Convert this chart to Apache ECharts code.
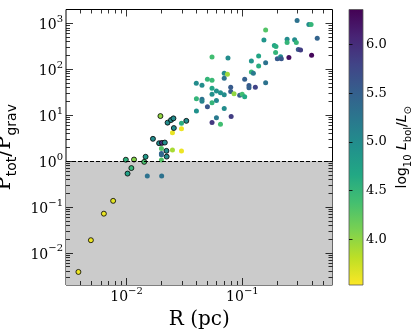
<!DOCTYPE html>
<html>
<head>
<meta charset="utf-8">
<script src="https://cdn.jsdelivr.net/npm/echarts@6/dist/echarts.min.js"></script>
<style>
  html, body { margin: 0; padding: 0; background: #fff; }
  #chart { width: 415px; height: 329px; }
</style>
</head>
<body>
<div id="chart"></div>
<script>
// clumps drawn with a black edge (small R)
const edgedR = [0.00384, 0.00492, 0.00637, 0.00766, 0.0102, 0.0110, 0.00986, 0.0116, 0.0142, 0.0146,
  0.0169, 0.0191, 0.0202, 0.0214, 0.0221, 0.0222, 0.0196, 0.0226, 0.0242, 0.0254, 0.0256, 0.0328]
const edgedP = [0.00385, 0.0189, 0.0715, 0.136, 0.534, 0.704, 1.07, 1.08, 0.961, 1.24,
  3.05, 2.45, 2.49, 2.53, 1.67, 1.25, 9.55, 6.87, 7.82, 8.51, 5.24, 7.51]
const edgedL = [3.60, 3.60, 3.62, 3.65, 4.75, 4.50, 4.55, 4.05, 4.35, 4.85,
  5.00, 5.00, 6.00, 5.00, 5.00, 5.00, 4.00, 5.00, 5.00, 5.00, 5.00, 5.00]

// clumps without edge
const plainR = [0.0151, 0.0201, 0.0200, 0.0200, 0.0200, 0.0200, 0.0249, 0.0249, 0.0298, 0.0298,
  0.0298, 0.0400, 0.0401, 0.0401, 0.0448, 0.0448, 0.0448, 0.0499, 0.0499, 0.0547,
  0.0547, 0.0547, 0.0547, 0.0547, 0.0547, 0.0597, 0.0597, 0.0597, 0.0647, 0.0647,
  0.0697, 0.0743, 0.0697, 0.0697, 0.0697, 0.0751, 0.0793, 0.0793, 0.0800, 0.0847,
  0.0948, 0.0996, 0.1047, 0.1047, 0.114, 0.114, 0.1196, 0.1196, 0.1244, 0.1294,
  0.1382, 0.1382, 0.1535, 0.1588, 0.1588, 0.1588, 0.1888, 0.195, 0.1936, 0.2003,
  0.2138, 0.2169, 0.2433, 0.2433, 0.2522, 0.2825, 0.2922, 0.2968, 0.304, 0.318,
  0.375, 0.392, 0.396, 0.443]
const plainP = [0.471, 0.471, 1.89, 1.47, 1.37, 1.05, 4.16, 1.74, 6.63, 5.03,
  1.65, 49.3, 22.9, 12.3, 45.0, 22.1, 20.2, 60.3, 15.3, 184.5,
  57.9, 38.7, 28.4, 18.7, 6.90, 33.5, 20.8, 8.82, 30.6, 6.30,
  81.4, 77.4, 63.4, 27.7, 13.9, 175, 40.3, 32.7, 9.32, 29.4,
  27.3, 28.7, 25.3, 60.3, 44.2, 39.3, 152, 86.9, 81.4, 40.7,
  194, 117, 433, 714, 139, 51.1, 327, 311, 231, 170,
  188, 168.5, 448, 380, 180, 437, 380, 1151, 269, 262,
  937, 937, 201, 471]
const plainL = [5.30, 5.30, 4.30, 5.50, 5.40, 4.30, 3.62, 3.90, 4.60, 3.60,
  3.60, 5.00, 4.50, 4.95, 5.00, 5.30, 5.10, 4.50, 5.60, 4.40,
  4.45, 4.70, 4.95, 4.50, 5.90, 4.95, 5.05, 5.20, 4.95, 4.40,
  5.00, 3.95, 5.30, 5.00, 5.00, 5.00, 5.55, 5.55, 5.85, 4.00,
  5.55, 4.40, 4.65, 5.50, 5.55, 5.50, 4.90, 4.50, 5.20, 5.80,
  4.70, 4.60, 4.90, 4.30, 5.30, 5.30, 4.70, 4.60, 4.50, 5.55,
  5.00, 5.60, 5.00, 4.50, 6.25, 5.00, 4.50, 5.30, 5.60, 5.85,
  5.00, 4.50, 6.30, 5.45]

const xRange = [0.003, 0.6]
const yRange = [0.002, 2000]
const xMajor = [0.01, 0.1]
const yMajor = [0.01, 0.1, 1, 10, 100, 1000]
const cbRange = [3.53, 6.36]
const cbTicks = [4.0, 4.5, 5.0, 5.5, 6.0]

const viridis = ['#440154', '#482475', '#414487', '#355f8d', '#2a788e', '#21918c',
  '#22a884', '#44bf70', '#7ad151', '#bddf26', '#fde725']

function minorTicks(range) {
  const out = []
  for (let e = -4; e <= 4; e++) {
    for (let k = 2; k <= 9; k++) {
      const v = +(k * Math.pow(10, e)).toPrecision(3)
      if (v > range[0] * 1.001 && v < range[1] * 0.999) out.push(v)
    }
  }
  return out
}
const xMinor = minorTicks(xRange)
const yMinor = minorTicks(yRange)

const serif = 'DejaVu Serif'
const sans = 'DejaVu Sans'
const tickRich = {
  b: { fontFamily: serif, fontSize: 14, lineHeight: 18, verticalAlign: 'bottom', color: '#000' },
  s: { fontFamily: serif, fontSize: 10, lineHeight: 12, verticalAlign: 'top', color: '#000' },
}
function powLabel(v) {
  const e = Math.round(Math.log10(v))
  return '{b|10}{s|' + (e < 0 ? '\u2212' + (-e) : e) + '}'
}

// one axis = major or minor ticks on one side of the main frame
function frameAxis(kind, position, ticks, major, withLabels) {
  const range = kind === 'x' ? xRange : yRange
  return {
    gridIndex: 0,
    type: 'log',
    logBase: 10,
    position: position,
    min: range[0],
    max: range[1],
    z: 5,
    axisLine: { show: false },
    axisTick: {
      show: true, inside: true, length: major ? 7 : 4, customValues: ticks,
      lineStyle: { color: '#000', width: 0.8 },
    },
    axisLabel: withLabels
      ? { show: true, customValues: ticks, formatter: powLabel, rich: tickRich, margin: kind === 'x' ? 1 : 3 }
      : { show: false },
    splitLine: { show: false },
    minorTick: { show: false },
  }
}

const xBottom = frameAxis('x', 'bottom', xMajor, true, true)
xBottom.name = 'R (pc)'
xBottom.nameLocation = 'middle'
xBottom.nameGap = 10
xBottom.nameTextStyle = { fontFamily: serif, fontSize: 20, lineHeight: 22, color: '#000' }

const yLeft = frameAxis('y', 'left', yMajor, true, true)
yLeft.name = '{m|P}{s|tot}{m|/P}{s|grav}'
yLeft.nameLocation = 'middle'
yLeft.nameRotate = 90
yLeft.nameGap = 38
yLeft.nameTextStyle = {
  rich: {
    m: { fontFamily: serif, fontSize: 21, lineHeight: 25, verticalAlign: 'top', color: '#000' },
    s: { fontFamily: sans, fontSize: 14, lineHeight: 16, verticalAlign: 'bottom', color: '#000' },
  },
}

const chart = echarts.init(document.getElementById('chart'))
chart.setOption({
  animation: false,
  backgroundColor: '#fff',
  grid: [
    { left: 66, top: 9.5, width: 266.5, height: 275.5, show: true, backgroundColor: '#fff',
      borderColor: '#000', borderWidth: 1, outerBoundsMode: 'none' },
    { left: 349, top: 9.5, width: 14, height: 275.5, show: true, outerBoundsMode: 'none',
      borderColor: '#555', borderWidth: 0.8,
      backgroundColor: {
        type: 'linear', x: 0, y: 0, x2: 0, y2: 1,
        colorStops: viridis.map((c, i) => ({ offset: i / (viridis.length - 1), color: c })),
      } },
  ],
  xAxis: [
    xBottom,
    frameAxis('x', 'bottom', xMinor, false, false),
    frameAxis('x', 'top', xMajor, true, false),
    frameAxis('x', 'top', xMinor, false, false),
    { gridIndex: 1, type: 'value', min: 0, max: 1, show: false },
  ],
  yAxis: [
    yLeft,
    frameAxis('y', 'left', yMinor, false, false),
    frameAxis('y', 'right', yMajor, true, false),
    frameAxis('y', 'right', yMinor, false, false),
    {
      gridIndex: 1, type: 'value', position: 'right', min: cbRange[0], max: cbRange[1],
      axisLine: { show: false },
      axisTick: { show: true, inside: false, length: 3.5, customValues: cbTicks, lineStyle: { color: '#000', width: 0.8 } },
      axisLabel: { show: true, customValues: cbTicks, formatter: v => v.toFixed(1), fontFamily: serif, fontSize: 13, color: '#000', margin: 3 },
      splitLine: { show: false },
      name: '{n|log}{ns|10}{n| }{i|L}{ns|bol}{n|/}{i|L}{ns|\u2299}',
      nameLocation: 'middle',
      nameRotate: 90,
      nameGap: 32,
      nameTextStyle: {
        rich: {
          n: { fontFamily: sans, fontSize: 14, lineHeight: 18, verticalAlign: 'top', color: '#000' },
          i: { fontFamily: sans, fontSize: 14, fontStyle: 'italic', lineHeight: 18, verticalAlign: 'top', color: '#000' },
          ns: { fontFamily: sans, fontSize: 10, lineHeight: 12, verticalAlign: 'bottom', color: '#000' },
        },
      },
    },
  ],
  visualMap: {
    type: 'continuous', show: false, min: cbRange[0], max: cbRange[1], dimension: 2,
    seriesIndex: [1, 2],
    inRange: { color: viridis.slice().reverse() },
  },
  series: [
    {
      type: 'scatter', xAxisIndex: 0, yAxisIndex: 0, data: [], z: 1, silent: true,
      markArea: {
        silent: true,
        itemStyle: { color: '#cbcbcb' },
        data: [[{ yAxis: yRange[0] }, { yAxis: 1 }]],
      },
      markLine: {
        silent: true, symbol: 'none', label: { show: false },
        lineStyle: { color: '#000', width: 1, type: [4, 2] },
        data: [{ yAxis: 1 }],
      },
    },
    {
      name: 'plain', type: 'scatter', xAxisIndex: 0, yAxisIndex: 0, z: 3,
      symbolSize: 5,
      itemStyle: { opacity: 1, borderWidth: 0 },
      data: plainR.map((r, i) => [r, plainP[i], plainL[i]]),
    },
    {
      name: 'edged', type: 'scatter', xAxisIndex: 0, yAxisIndex: 0, z: 3,
      symbolSize: 5,
      itemStyle: { opacity: 1, borderColor: '#000', borderWidth: 0.8 },
      data: edgedR.map((r, i) => [r, edgedP[i], edgedL[i]]),
    },
  ],
})
</script>
</body>
</html>
